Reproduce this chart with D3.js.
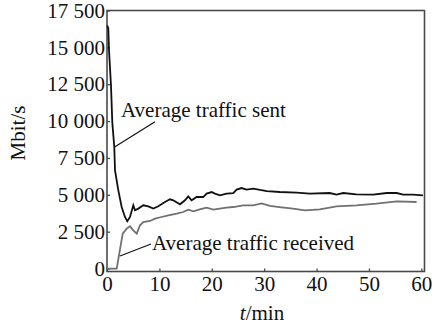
<!DOCTYPE html>
<html><head><meta charset="utf-8">
<script src="https://cdn.jsdelivr.net/npm/d3@7"></script>
<style>body{margin:0;background:#fff}svg{display:block}text{font-family:"Liberation Serif","Times New Roman",serif;fill:#111}</style>
</head><body><svg id="c" width="441" height="329"></svg>
<script>
// time in minutes
const sentT = [0.05,0.25,0.38,0.76,1.01,1.39,1.53,2.16,2.8,3.43,3.87,4.39,5.02,5.34,5.97,6.93,7.88,8.84,9.79,11.06,12.02,12.65,13.93,14.88,15.51,16.15,17.11,18.37,19.02,19.97,20.6,21.56,22.83,24.1,24.74,25.7,26.65,27.9,29.2,30.5,33,36.2,38.7,42.5,43.8,45.1,47.6,50.8,53.4,55.3,56.5,58.4,60.3];
const sentV = [16480,16280,14837,12419,9932,8238,6660,5305,4173,3496,3205,3496,4289,3950,4065,4289,4220,4065,4220,4512,4695,4627,4356,4627,4898,4627,4851,4851,5080,5190,5080,4966,5080,5122,5352,5460,5352,5420,5330,5257,5190,5149,5080,5122,5013,5122,5034,5013,5122,5122,5013,5013,4966];
const recvT = [0,1.85,3.0,3.76,4.39,5.02,5.67,6.3,6.93,8.2,9.16,10.4,11.7,13.3,14.55,15.5,16.5,17.7,19,20.3,21.5,22.8,24.1,26,27.9,29.5,31.1,33.3,35.5,37.8,40.6,43.8,47.6,51.4,55.3,59.1];
const recvV = [0,0,2371,2710,2866,2595,2371,2934,3157,3225,3387,3496,3611,3726,3835,3997,3882,4018,4133,3997,4065,4133,4173,4289,4289,4420,4250,4150,4065,3950,4018,4221,4289,4404,4560,4512];
const xTicks = [0,10,20,30,40,50,60];
const yTicks = [0,2500,5000,7500,10000,12500,15000,17500];
const yTickLabels = ["0","2 500","5 000","7 500","10 000","12 500","15 000","17 500"];
const labels = {sent:"Average traffic sent", recv:"Average traffic received", y:"Mbit/s", xUnit:"/min", xVar:"t"};

const svg = d3.select("#c");
const L=107, R=424.5, T=10.5, B=271.5;
const x = d3.scaleLinear().domain([0,60.6]).range([L,R]);
const y = d3.scaleLinear().domain([-200,17500]).range([B,T]);
const axisColor="#4a4a4a";

// box
svg.append("rect").attr("x",L).attr("y",T).attr("width",R-L).attr("height",B-T)
  .attr("fill","none").attr("stroke",axisColor).attr("stroke-width",1.6);

const ya = svg.append("g").attr("transform",`translate(${L},0)`)
  .call(d3.axisLeft(y).tickValues(yTicks).tickFormat((d,i)=>yTickLabels[i]).tickSize(-3).tickPadding(2));
const xa = svg.append("g").attr("transform",`translate(0,${B})`)
  .call(d3.axisBottom(x).tickValues(xTicks).tickSize(-3).tickPadding(5));
[ya,xa].forEach(g=>{
  g.select(".domain").remove();
  g.selectAll(".tick line").attr("stroke",axisColor).attr("stroke-width",1.3);
  g.selectAll(".tick text").attr("font-size",21).attr("font-family","Liberation Serif").attr("fill","#111");
});

const line = d3.line().x(d=>x(d[0])).y(d=>y(d[1]));
svg.append("path").datum(recvT.map((t,i)=>[t,recvV[i]])).attr("d",line)
  .attr("fill","none").attr("stroke","#707070").attr("stroke-width",1.8);
svg.append("path").datum(sentT.map((t,i)=>[t,sentV[i]])).attr("d",line)
  .attr("fill","none").attr("stroke","#111").attr("stroke-width",1.8);

// annotations
svg.append("line").attr("x1",115).attr("y1",146.7).attr("x2",155).attr("y2",121.7).attr("stroke","#111").attr("stroke-width",1.2);
svg.append("text").attr("x",121).attr("y",117).attr("font-size",21).text(labels.sent);
svg.append("line").attr("x1",120).attr("y1",256).attr("x2",151).attr("y2",244).attr("stroke","#111").attr("stroke-width",1.2);
svg.append("text").attr("x",152).attr("y",250).attr("font-size",21).text(labels.recv);

svg.append("text").attr("transform","translate(25,133) rotate(-90)").attr("text-anchor","middle").attr("font-size",21).text(labels.y);
const xl = svg.append("text").attr("x",262).attr("y",320).attr("text-anchor","middle").attr("font-size",21);
xl.append("tspan").attr("font-style","italic").text(labels.xVar);
xl.append("tspan").text(labels.xUnit);
</script></body></html>
